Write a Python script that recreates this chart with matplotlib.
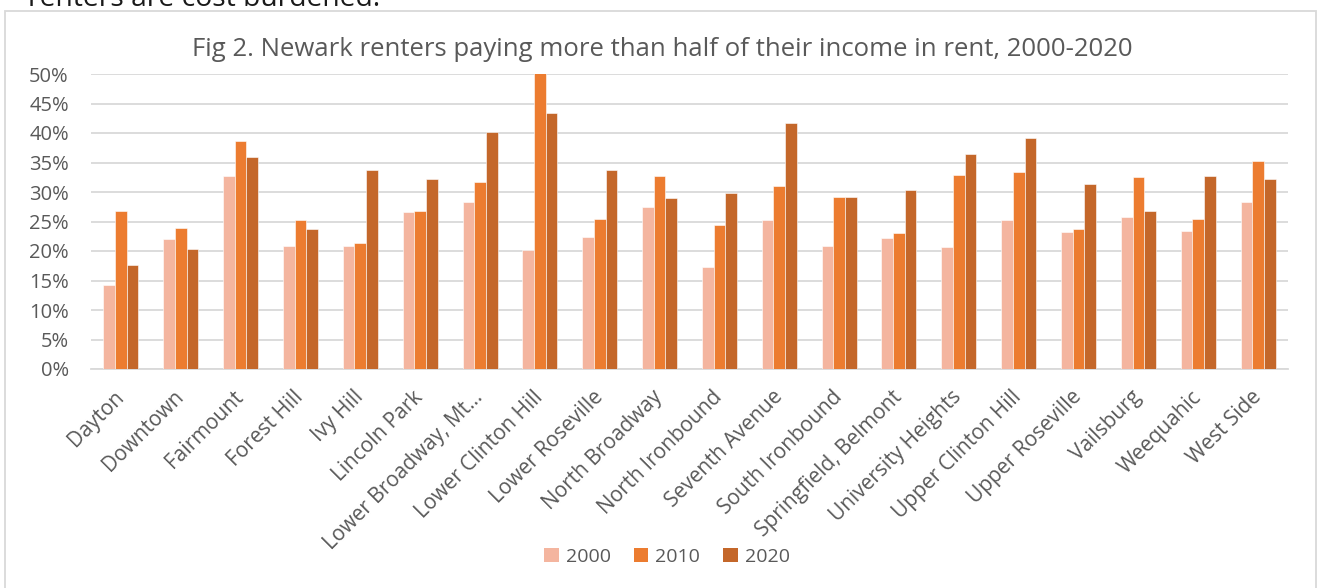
import numpy as np
import matplotlib.pyplot as plt
from matplotlib.patches import Rectangle, Patch

plt.rcParams['font.family'] = ['Open Sans', 'DejaVu Sans']

# Neighbourhoods and share of renters paying > 50% of income in rent (%)
neighborhoods = ['Dayton', 'Downtown', 'Fairmount', 'Forest Hill', 'Ivy Hill',
                 'Lincoln Park', 'Lower Broadway, Mt…', 'Lower Clinton Hill',
                 'Lower Roseville', 'North Broadway', 'North Ironbound',
                 'Seventh Avenue', 'South Ironbound', 'Springfield, Belmont',
                 'University Heights', 'Upper Clinton Hill', 'Upper Roseville',
                 'Vailsburg', 'Weequahic', 'West Side']
share_2000 = [14.3, 22.0, 32.7, 20.9, 20.8, 26.6, 28.3, 20.1, 22.3, 27.4,
              17.3, 25.2, 20.8, 22.2, 20.7, 25.3, 23.2, 25.7, 23.4, 28.3]
share_2010 = [26.8, 23.9, 38.7, 25.2, 21.3, 26.7, 31.7, 50.2, 25.5, 32.7,
              24.4, 31.1, 29.1, 23.1, 32.9, 33.4, 23.7, 32.6, 25.4, 35.3]
share_2020 = [17.7, 20.3, 36.0, 23.8, 33.8, 32.2, 40.2, 43.4, 33.8, 29.0,
              29.9, 41.7, 29.2, 30.4, 36.5, 39.2, 31.3, 26.8, 32.7, 32.2]
years = ['2000', '2010', '2020']
colors = ['#F4B59F', '#EC7C30', '#C4672A']

text_grey = '#595959'
grid_grey = '#D9D9D9'

fig = plt.figure(figsize=(13.2, 5.88), dpi=100)
W, H = 1320, 588

# line of body text above the chart, mostly cut off by the page edge
fig.text(28 / W, 1 - 6 / H, 'renters are cost burdened.', fontsize=20.3,
         color='#1a1a1a', ha='left', va='baseline')

# chart frame
fig.patches.append(Rectangle((5 / W, -0.1), 1311 / W, 1.1 - 11 / H,
                             transform=fig.transFigure, fill=False,
                             edgecolor=grid_grey, linewidth=1.3))

ax = fig.add_axes([91 / W, 1 - 369 / H, 1197 / W, 295 / H])

x = np.arange(len(neighborhoods))
bw = 0.195
for i, (vals, c) in enumerate(zip([share_2000, share_2010, share_2020], colors)):
    ax.bar(x + (i - 1) * bw, vals, width=bw, color=c, edgecolor='white',
           linewidth=0.4, label=years[i], zorder=3)

ax.set_xlim(-0.5, len(neighborhoods) - 0.5)
ax.set_ylim(0, 50)
ax.set_yticks(np.arange(0, 51, 5))
ax.set_yticklabels([f'{v}%' for v in range(0, 51, 5)])
ax.yaxis.grid(True, color=grid_grey, linewidth=1.3, zorder=0)
ax.set_axisbelow(True)
for s in ['top', 'right', 'left']:
    ax.spines[s].set_visible(False)
ax.spines['bottom'].set_color(grid_grey)
ax.spines['bottom'].set_linewidth(1.3)
ax.tick_params(axis='both', length=0, labelsize=14.5, colors=text_grey)
ax.tick_params(axis='y', pad=16)

ax.set_xticks(x)
ax.set_xticklabels(neighborhoods, rotation=45, ha='right', va='center',
                   rotation_mode='anchor', fontsize=15)
ax.tick_params(axis='x', pad=18)

fig.text(662 / W, 1 - 49 / H,
         'Fig 2. Newark renters paying more than half of their income in rent, 2000-2020',
         fontsize=18.5, color=text_grey, ha='center', va='center')

handles = [Patch(facecolor=c, edgecolor='none') for c in colors]
fig.legend(handles, years, loc='center', bbox_to_anchor=(667 / W, 1 - 557 / H),
           ncol=3, frameon=False, fontsize=14, labelcolor=text_grey,
           handlelength=0.75, handleheight=0.75, handletextpad=0.35,
           columnspacing=1.2)

fig.savefig('out.png', dpi=100)
